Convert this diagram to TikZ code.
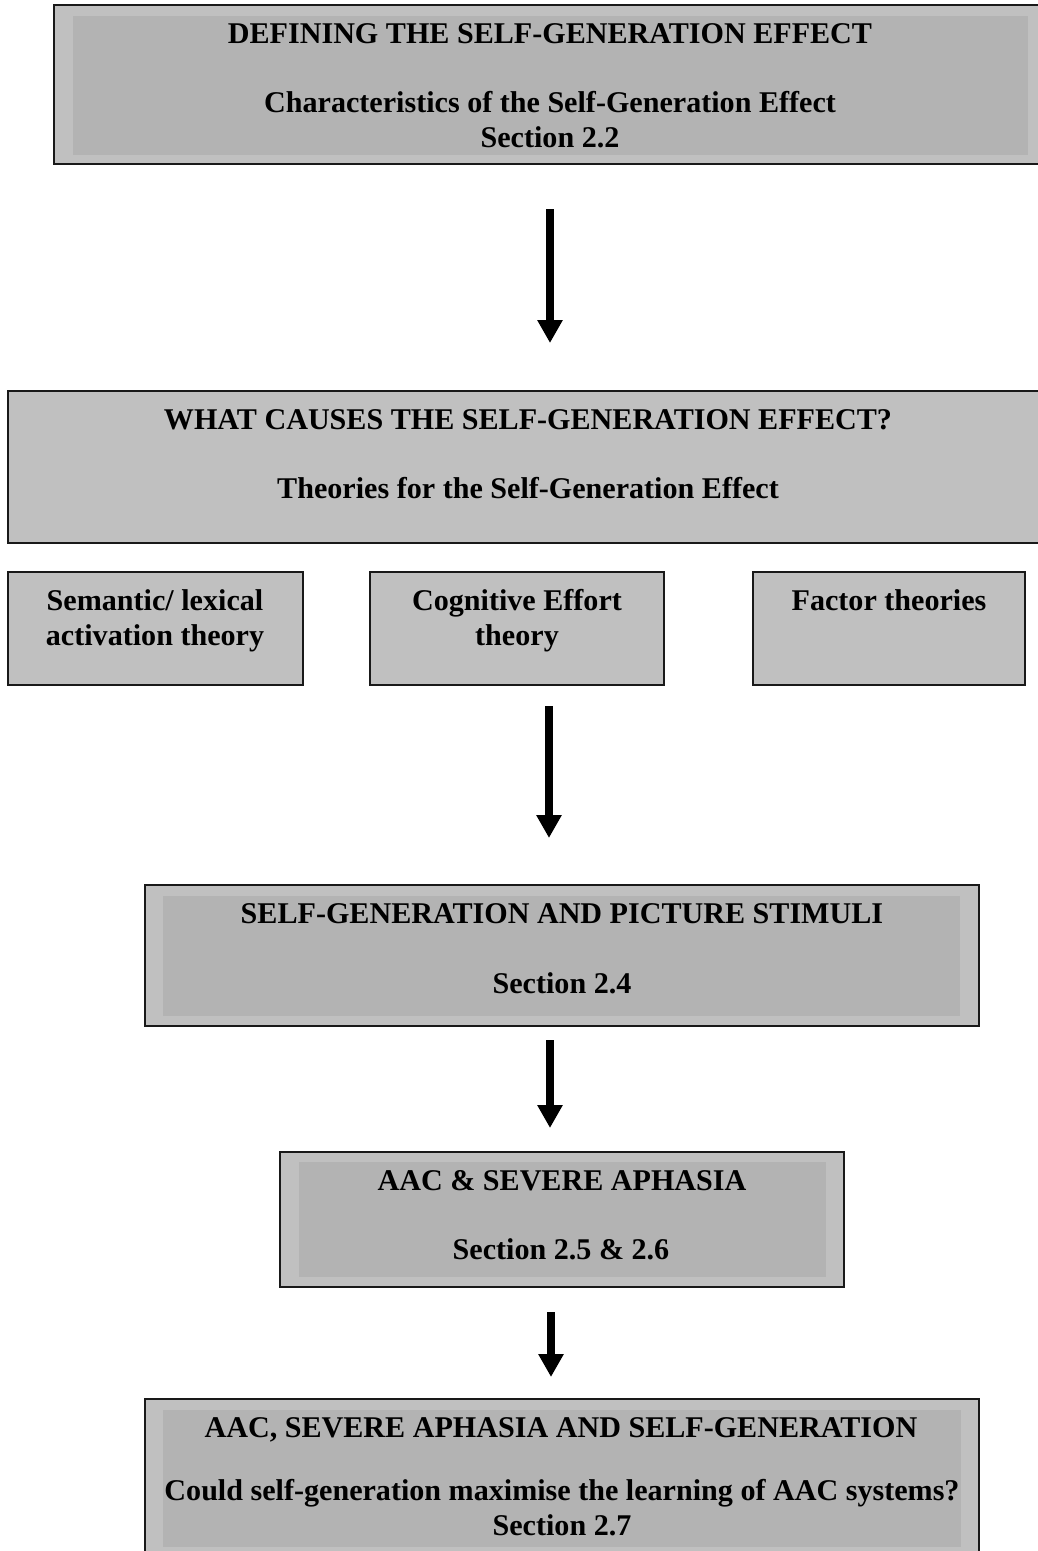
\documentclass[tikz,border=0pt]{standalone}
\usepackage{fontspec}
\setmainfont{Liberation Serif}
\usetikzlibrary{arrows.meta}
\definecolor{outerfill}{HTML}{C0C0C0}
\definecolor{innerfill}{HTML}{B3B3B3}
\begin{document}
\begin{tikzpicture}[x=1pt,y=-1pt,
  outerbox/.style={draw=black!90,line width=2.2pt,fill=outerfill},
  innerbox/.style={fill=innerfill},
  lbl/.style={anchor=base,inner sep=0pt,font=\fontsize{30.1}{34}\selectfont\bfseries},
  bigarrow/.style={line width=7.5pt,-{Triangle[width=24pt,length=23pt]}}]
\useasboundingbox (0,0) rectangle (1037,1551);
% box 1
\draw[outerbox] (54,5) rectangle (1050,164);
\fill[innerbox] (73,16) rectangle (1028,155);
\node[lbl] (t1a) at (550,43) {DEFINING THE SELF-GENERATION EFFECT};
\node[lbl] (t1b) at (550,112) {Characteristics of the Self-Generation Effect};
\node[lbl] (t1c) at (550,147) {Section 2.2};
% box 2
\draw[outerbox] (8,391) rectangle (1050,543);
\node[lbl] (t2a) at (528,429) {WHAT CAUSES THE SELF-GENERATION EFFECT?};
\node[lbl] (t2b) at (528,498) {Theories for the Self-Generation Effect};
% small boxes
\draw[outerbox] (8,572) rectangle (303,685);
\node[lbl] (s1a) at (155,610) {Semantic/ lexical};
\node[lbl] (s1b) at (155,645) {activation theory};
\draw[outerbox] (370,572) rectangle (664,685);
\node[lbl] (s2a) at (517,610) {Cognitive Effort};
\node[lbl] (s2b) at (517,645) {theory};
\draw[outerbox] (753,572) rectangle (1025,685);
\node[lbl] (s3a) at (889,610) {Factor theories};
% box 3
\draw[outerbox] (145,885) rectangle (979,1026);
\fill[innerbox] (163,896) rectangle (960,1016);
\node[lbl] (t3a) at (562,923) {SELF-GENERATION AND PICTURE STIMULI};
\node[lbl] (t3b) at (562,993) {Section 2.4};
% box 4
\draw[outerbox] (280,1152) rectangle (844,1287);
\fill[innerbox] (299,1162) rectangle (826,1277);
\node[lbl] (t4a) at (562,1190) {AAC \& SEVERE APHASIA};
\node[lbl] (t4b) at (561,1259) {Section 2.5 \& 2.6};
% box 5
\draw[outerbox] (145,1399) rectangle (979,1570);
\fill[innerbox] (163,1410) rectangle (961,1547);
\node[lbl] (t5a) at (561,1437) {AAC, SEVERE APHASIA AND SELF-GENERATION};
\node[lbl] (t5b) at (562,1500) {Could self-generation maximise the learning of AAC systems?};
\node[lbl] (t5c) at (562,1535) {Section 2.7};
% arrows
\coordinate (a1s) at (550,209); \coordinate (a1e) at (550,343);
\coordinate (a2s) at (549,706); \coordinate (a2e) at (549,838);
\coordinate (a3s) at (550,1040); \coordinate (a3e) at (550,1128);
\coordinate (a4s) at (551,1312); \coordinate (a4e) at (551,1377);
\draw[bigarrow] (a1s) -- (a1e);
\draw[bigarrow] (a2s) -- (a2e);
\draw[bigarrow] (a3s) -- (a3e);
\draw[bigarrow] (a4s) -- (a4e);
\end{tikzpicture}
\end{document}
